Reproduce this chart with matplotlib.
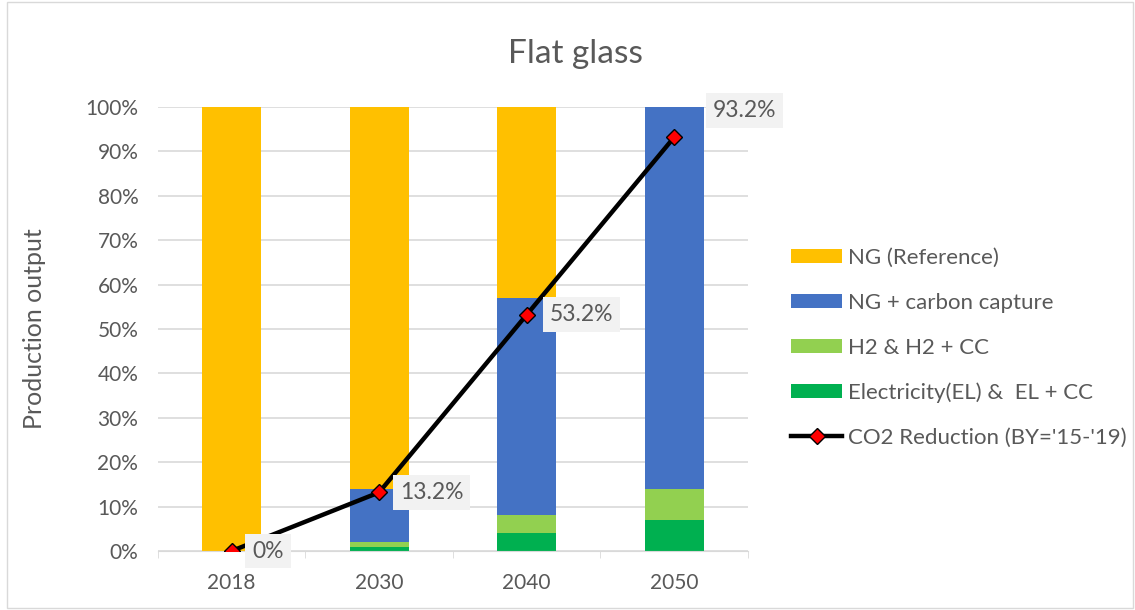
import numpy as np
import matplotlib.pyplot as plt
from matplotlib.patches import Rectangle

plt.rcParams['font.family'] = ['Lato', 'DejaVu Sans']

years = ['2018', '2030', '2040', '2050']
el = [0, 1, 4, 7]
h2 = [0, 1, 4, 7]
ng_cc = [0, 12, 49, 86]
ng_ref = [100, 86, 43, 0]
co2_red = [0, 13.2, 53.2, 93.2]
co2_lbl = ['0%', '13.2%', '53.2%', '93.2%']

txt = '#595959'
fig = plt.figure(figsize=(11.35, 6.10), dpi=100)
fig.patches.append(Rectangle((0.006, 0.003), 0.992, 0.994, transform=fig.transFigure,
                             fill=False, edgecolor='#d9d9d9', lw=1))
ax = fig.add_axes([0.139, 0.0967, 0.520, 0.7279])

x = np.arange(len(years))
w = 0.40
bottom = np.zeros(len(years))
series = [(el, '#00b050', 'Electricity(EL) &  EL + CC'),
          (h2, '#92d050', 'H2 & H2 + CC'),
          (ng_cc, '#4472c4', 'NG + carbon capture'),
          (ng_ref, '#ffc000', 'NG (Reference)')]
bars = {}
for vals, col, lab in series:
    v = np.array(vals) / 100
    bars[lab] = ax.bar(x, v, w, bottom=bottom, color=col, label=lab, zorder=2)
    bottom += v

line, = ax.plot(x, np.array(co2_red) / 100, color='black', lw=3.2, marker='D',
                markersize=8, markerfacecolor='#ff0000', markeredgecolor='black',
                markeredgewidth=1, zorder=4, label="CO2 Reduction (BY='15-'19)")

# label offsets in points (text start relative to point)
offsets = [(15, 0), (15, 0), (16.5, 0), (28, 19)]
for xi, yi, lab, off in zip(x, co2_red, co2_lbl, offsets):
    ax.annotate(lab, (xi, yi / 100), xytext=off, textcoords='offset points',
                ha='left', va='center', fontsize=16.5, color=txt, zorder=5,
                bbox=dict(boxstyle='square,pad=0.3', fc='#f2f2f2', ec='none'))

ax.set_xlim(-0.5, 3.5)
ax.set_ylim(0, 1)
ticks = np.arange(0, 1.01, 0.1)
ax.set_yticks(ticks)
ax.set_yticklabels([f'{int(round(t * 100))}%' for t in ticks])
ax.set_xticks(x)
ax.set_xticklabels(years)
ax.set_xticks(np.arange(-0.5, 3.6, 1), minor=True)
ax.tick_params(axis='x', which='major', length=0, colors=txt, labelsize=15, pad=16)
ax.tick_params(axis='x', which='minor', length=5, color='#d9d9d9')
ax.tick_params(axis='y', length=0, colors=txt, labelsize=15, pad=14)
ax.grid(axis='y', color='#d9d9d9', lw=1.2, zorder=0)
ax.set_axisbelow(True)
for s in ['top', 'right', 'left']:
    ax.spines[s].set_visible(False)
ax.spines['bottom'].set_color('#d9d9d9')

ax.set_ylabel('Production output', fontsize=18, color=txt)
ax.yaxis.set_label_coords(-0.19, 0.5)
fig.text(0.507, 0.911, 'Flat glass', ha='center', va='center', fontsize=24, color=txt)

handles = [bars['NG (Reference)'], bars['NG + carbon capture'], bars['H2 & H2 + CC'],
           bars['Electricity(EL) &  EL + CC'], line]
labels = ['NG (Reference)', 'NG + carbon capture', 'H2 & H2 + CC',
          'Electricity(EL) &  EL + CC', "CO2 Reduction (BY='15-'19)"]
leg = fig.legend(handles, labels, loc='upper left', bbox_to_anchor=(0.697, 0.593),
                 frameon=False, fontsize=16, labelspacing=1.11, handlelength=2.3,
                 handleheight=0.6, handletextpad=0.25, borderpad=0, borderaxespad=0,
                 labelcolor=txt)

fig.savefig('out.png', dpi=100)
